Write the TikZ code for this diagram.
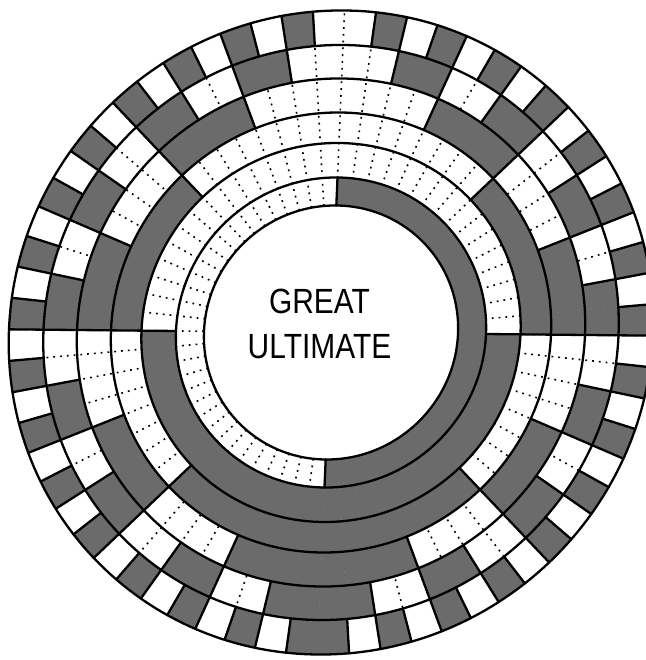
\documentclass[tikz,border=0pt]{standalone}
\usepackage{fontspec}
\newfontfamily\gfont{Liberation Sans}[FakeStretch=0.855]
\tikzset{
  ringline/.style={line width=2.3pt},
  divline/.style={line width=2.3pt, line cap=round},
  dotline/.style={line width=1.6pt, dash pattern=on 1.8pt off 5pt},
  yin/.style={fill=black!58, draw=black!58, line width=0.4pt},
  title/.style={align=center, font=\gfont\fontsize{35}{45}\selectfont, inner sep=0pt}
}
\begin{document}
\begin{tikzpicture}
\useasboundingbox (-331pt,-327.5pt) rectangle (314pt,332.5pt);
\begin{scope}[cm={1,-0.0098,0.042,1,(0pt,0pt)}]
  % dotted divisions
  \foreach \d in {0,...,63}{
    \pgfmathsetmacro{\a}{90+\d*5.625}
    \draw[dotline] (\a:127pt) -- (\a:322pt);
  }
  % shaded (yin) cells
  \foreach \k/\ra/\rb in {1/127/155, 2/155/189.5, 3/189.5/220, 4/220/254, 5/254/287.5, 6/287.5/322}{
    \pgfmathtruncatemacro{\bit}{2^(6-\k)}
    \foreach \c in {0,...,63}{
      \pgfmathtruncatemacro{\v}{\c<32 ? 63-\c : \c-32}
      \pgfmathtruncatemacro{\s}{mod(floor(\v/\bit),2)}
      \ifnum\s=0
        \pgfmathsetmacro{\aa}{90+\c*5.625}
        \pgfmathsetmacro{\ab}{90+(\c+1)*5.625}
        \fill[yin] (\aa:\ra pt) arc[start angle=\aa, end angle=\ab, radius=\ra pt]
          -- (\ab:\rb pt) arc[start angle=\ab, end angle=\aa, radius=\rb pt] -- cycle;
      \fi
    }
  }
  % solid divisions where the line changes
  \foreach \k/\ra/\rb in {1/127/155, 2/155/189.5, 3/189.5/220, 4/220/254, 5/254/287.5, 6/287.5/322}{
    \pgfmathtruncatemacro{\bit}{2^(6-\k)}
    \foreach \d in {0,...,63}{
      \pgfmathtruncatemacro{\e}{mod(\d+63,64)}
      \pgfmathtruncatemacro{\va}{\d<32 ? 63-\d : \d-32}
      \pgfmathtruncatemacro{\vb}{\e<32 ? 63-\e : \e-32}
      \pgfmathtruncatemacro{\sa}{mod(floor(\va/\bit),2)}
      \pgfmathtruncatemacro{\sb}{mod(floor(\vb/\bit),2)}
      \ifnum\sa=\sb\else
        \pgfmathsetmacro{\a}{90+\d*5.625}
        \draw[divline] (\a:\ra pt) -- (\a:\rb pt);
      \fi
    }
  }
  % ring circles
  \foreach \r in {127,155,189.5,220,254,287.5,322}{
    \draw[ringline] (0pt,0pt) circle[radius=\r pt];
  }
\end{scope}
\node[title] (center) at (-11.5pt,9pt) {GREAT\\ULTIMATE};
\end{tikzpicture}
\end{document}
